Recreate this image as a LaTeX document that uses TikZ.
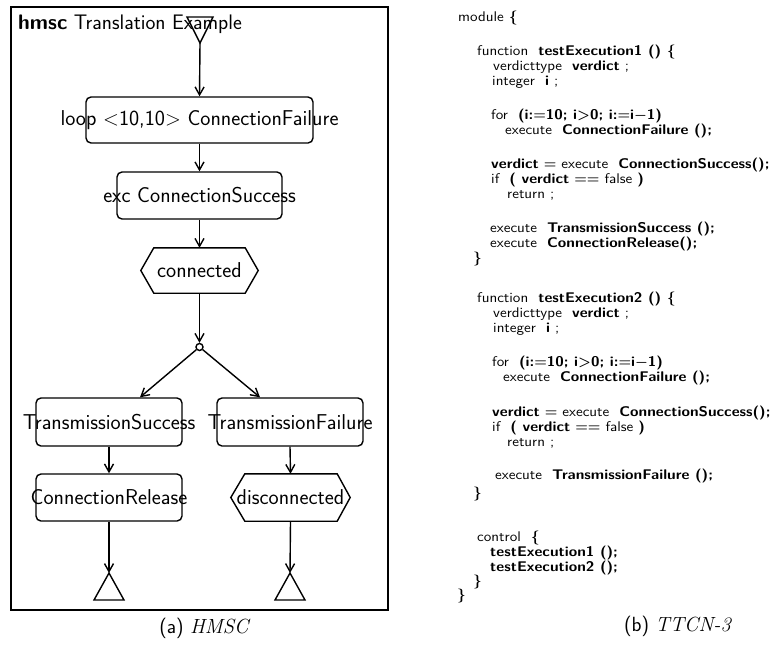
\documentclass[tikz,border=0pt]{standalone}
\usepackage{fontspec}
\newfontfamily\codefont{Latin Modern Sans}[FakeStretch=1.1]
\usetikzlibrary{arrows.meta,calc}
\tikzset{
  ln/.style={line width=1.4pt},
  arr/.style={ln,-{Straight Barb[length=8pt,width=9pt]}},
  hbox/.style={ln,draw,rounded corners=5pt,inner sep=0pt},
  hexa/.style={inner sep=0pt},
  btext/.style={inner sep=0pt,font=\sffamily\fontsize{21.5}{24}\selectfont},
  code/.style={anchor=base west,inner sep=0pt,font=\codefont\fontsize{14}{16}\selectfont},
  capt/.style={anchor=base,inner sep=0pt,font=\sffamily\fontsize{20.5}{24}\selectfont}
}
\newcommand\bm[1]{{\boldmath$#1$}}
\begin{document}
\begin{tikzpicture}[x=1pt,y=-1pt]
\useasboundingbox (0,0) rectangle (778,646);
% frame
\node[ln,draw,minimum width=377pt,minimum height=603pt,inner sep=0pt] (frame) at (199.5,308.5) {};
\node[btext,anchor=base west,font=\sffamily\fontsize{21}{24}\selectfont] (title) at (18,29) {\textbf{hmsc} Translation Example};
% start triangle
\coordinate (s) at (200,43);
\coordinate (sl) at (187,17);
\coordinate (sr) at (213,17);
\draw[ln,line join=miter] (sl) -- (sr) -- (s) -- cycle;
% boxes
\node[hbox,minimum width=227pt,minimum height=46pt] (loop) at (199.5,120) {};
\node[btext] (looptxt) at (loop.center) {loop $<$10,10$>$ ConnectionFailure};
\node[hbox,minimum width=165pt,minimum height=47pt] (exc) at (199.5,195.5) {};
\node[btext] (exctxt) at (exc.center) {exc ConnectionSuccess};
\node[hexa,minimum width=117pt,minimum height=45pt] (con) at (199.5,270.5) {};
\draw[ln] (con.west) -- ([xshift=13pt]con.north west) -- ([xshift=-13pt]con.north east) -- (con.east) -- ([xshift=-13pt]con.south east) -- ([xshift=13pt]con.south west) -- cycle;
\node[btext] (contxt) at (con.center) {connected};
\node[circle,ln,draw,inner sep=0pt,minimum size=7pt] (j) at (199.5,347) {};
\node[hbox,minimum width=146pt,minimum height=48pt] (ts) at (109,422) {};
\node[btext] (tstxt) at (ts.center) {TransmissionSuccess};
\node[hbox,minimum width=146pt,minimum height=48pt] (tf) at (290,422) {};
\node[btext] (tftxt) at (tf.center) {TransmissionFailure};
\node[hbox,minimum width=146pt,minimum height=47pt] (cr) at (109,497.5) {};
\node[btext] (crtxt) at (cr.center) {ConnectionRelease};
\node[hexa,minimum width=119pt,minimum height=47pt] (dis) at (290.5,497.5) {};
\draw[ln] (dis.west) -- ([xshift=14pt]dis.north west) -- ([xshift=-13pt]dis.north east) -- (dis.east) -- ([xshift=-13pt]dis.south east) -- ([xshift=14pt]dis.south west) -- cycle;
\node[btext] (distxt) at (dis.center) {disconnected};
% end triangles
\coordinate (e1) at (109,573);
\draw[ln,line join=miter] (e1) -- (94,600) -- (124,600) -- cycle;
\coordinate (e2) at (290,573);
\draw[ln,line join=miter] (e2) -- (275,600) -- (305,600) -- cycle;
% connectors
\draw[arr] (s) -- (loop.north);
\draw[arr] (loop.south) -- (exc.north);
\draw[arr] (exc.south) -- (con.north);
\draw[arr] (con.south) -- (j.north);
\draw[arr] (j) -- ([xshift=31pt]ts.north);
\draw[arr] (j) -- ([xshift=-30pt]tf.north);
\draw[arr] (ts.south) -- (cr.north);
\draw[arr] (tf.south) -- (dis.north);
\draw[arr] (cr.south) -- (e1);
\draw[arr] (dis.south) -- (e2);
% captions
\node[capt] (capa) at (205,633) {(a) \textit{\rmfamily HMSC}};
\node[capt] (capb) at (678,631) {(b) \textit{\rmfamily TTCN-3}};
% code
\node[code] (c1) at (458,21) {module \textbf{\{}};
\node[code] (c2) at (477,55) {function \ \textbf{testExecution1 () \{}};
\node[code] (c3) at (493,70) {verdicttype \ \textbf{verdict} ;};
\node[code] (c4) at (492,85) {integer \ \textbf{i} ;};
\node[code] (c5) at (491,119) {for \ \textbf{(i:\bm{=}10; i\bm{>}0; i:\bm{=}i\bm{-}1)}};
\node[code] (c6) at (505,134) {execute \ \textbf{ConnectionFailure ();}};
\node[code] (c7) at (491,168) {\textbf{verdict} \bm{=} execute \ \textbf{ConnectionSuccess();}};
\node[code] (c8) at (491,183) {if \ \textbf{( verdict} \bm{==} false \textbf{)}};
\node[code] (c9) at (507,198) {return ;};
\node[code] (c10) at (490,232) {execute \ \textbf{TransmissionSuccess ();}};
\node[code] (c11) at (490,247) {execute \ \textbf{ConnectionRelease();}};
\node[code] (c12) at (473,262) {\textbf{\}}};
\node[code] (c13) at (477,302) {function \ \textbf{testExecution2 () \{}};
\node[code] (c14) at (493,317) {verdicttype \ \textbf{verdict} ;};
\node[code] (c15) at (493,332) {integer \ \textbf{i} ;};
\node[code] (c16) at (492,366) {for \ \textbf{(i:\bm{=}10; i\bm{>}0; i:\bm{=}i\bm{-}1)}};
\node[code] (c17) at (503,381) {execute \ \textbf{ConnectionFailure ();}};
\node[code] (c18) at (492,416) {\textbf{verdict} \bm{=} execute \ \textbf{ConnectionSuccess();}};
\node[code] (c19) at (492,431) {if \ \textbf{( verdict} \bm{==} false \textbf{)}};
\node[code] (c20) at (507,446) {return ;};
\node[code] (c21) at (495,479) {execute \ \textbf{TransmissionFailure ();}};
\node[code] (c22) at (473,497) {\textbf{\}}};
\node[code] (c23) at (477,541) {control \ \textbf{\{}};
\node[code] (c24) at (490,556) {\textbf{testExecution1 ();}};
\node[code] (c25) at (490,571) {\textbf{testExecution2 ();}};
\node[code] (c26) at (473,585) {\textbf{\}}};
\node[code] (c27) at (457,599) {\textbf{\}}};
\end{tikzpicture}
\end{document}
